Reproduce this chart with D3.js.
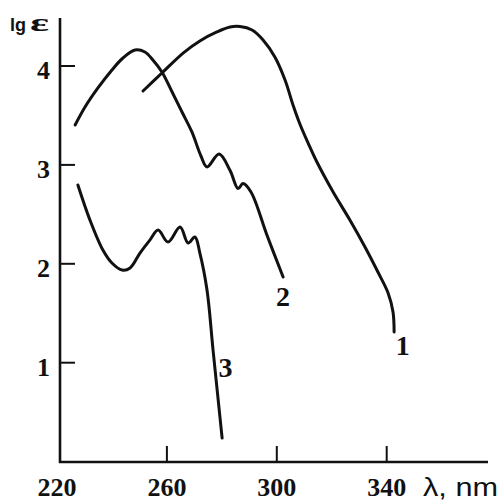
<!DOCTYPE html>
<html>
<head>
<meta charset="utf-8">
<script src="https://cdn.jsdelivr.net/npm/d3@7"></script>
<style>
  html, body { margin: 0; padding: 0; background: #fff; }
  svg { display: block; }
</style>
</head>
<body>
<svg id="chart" width="499" height="503"></svg>
<script>
// ---- data (wavelength in nm, lg ε) ----
const xTicks = [220, 260, 300, 340];
const yTicks = [1, 2, 3, 4];

const curve1Lambda = [251.3, 258.2, 265.9, 272.0, 278.2, 283.0, 286.6, 291.0, 295.0, 299.3, 303.0, 305.9, 308.4, 311.4, 314.6, 320.5, 326.6, 332.1, 336.8, 340.5, 342.3, 342.7];
const curve1LgE    = [3.747, 3.929, 4.131, 4.253, 4.344, 4.394, 4.399, 4.364, 4.263, 4.091, 3.858, 3.606, 3.414, 3.221, 3.029, 2.726, 2.443, 2.170, 1.917, 1.705, 1.513, 1.310];

const curve2Lambda = [226.6, 230.2, 234.9, 240.0, 244.0, 248.4, 252.0, 254.9, 258.2, 261.9, 265.5, 269.1, 272.4, 274.6, 279.0, 283.0, 285.9, 287.7, 290.6, 296.4, 302.3];
const curve2LgE    = [3.403, 3.585, 3.778, 3.960, 4.081, 4.162, 4.142, 4.061, 3.939, 3.737, 3.535, 3.333, 3.090, 2.979, 3.110, 2.943, 2.761, 2.811, 2.726, 2.291, 1.866];

const curve3Lambda = [227.6, 232.0, 236.7, 240.0, 243.7, 246.6, 250.2, 253.8, 256.8, 260.4, 264.8, 267.7, 270.2, 272.0, 274.6, 276.8, 280.1];
const curve3LgE    = [2.797, 2.442, 2.139, 2.008, 1.937, 1.958, 2.109, 2.240, 2.341, 2.220, 2.372, 2.210, 2.271, 2.109, 1.735, 1.128, 0.238];

const curveLabels = ["1", "2", "3"];
// label anchor positions in data units (λ, lg ε)
const labelLambda = [345.8, 302.3, 281.3];
const labelLgE    = [1.08, 1.57, 0.86];

// ---- scales ----
const svg = d3.select("#chart");
const x = d3.scaleLinear().domain([220, 340]).range([57, 386.7]);
const y = d3.scaleLinear().domain([0, 4]).range([461.6, 66]);

const axisX = 60, axisY = 462;

// axes lines
svg.append("line").attr("x1", axisX).attr("x2", axisX).attr("y1", 18).attr("y2", axisY + 1)
  .attr("stroke", "#111").attr("stroke-width", 2.6);
svg.append("line").attr("x1", axisX - 1).attr("x2", 488).attr("y1", axisY).attr("y2", axisY)
  .attr("stroke", "#111").attr("stroke-width", 2.6);

// y ticks + labels
const gy = svg.append("g");
yTicks.forEach(v => {
  gy.append("line").attr("x1", axisX).attr("x2", axisX + 15)
    .attr("y1", y(v)).attr("y2", y(v)).attr("stroke", "#111").attr("stroke-width", 2);
  gy.append("text").attr("x", 50).attr("y", y(v) + 13).attr("text-anchor", "end")
    .attr("font-family", "'Liberation Serif', serif").attr("font-weight", "bold")
    .attr("font-size", 26).attr("fill", "#111").text(v);
});

// x ticks + labels
const gx = svg.append("g");
xTicks.forEach(v => {
  if (v !== 220) {
    gx.append("line").attr("x1", x(v)).attr("x2", x(v))
      .attr("y1", axisY).attr("y2", axisY - 16).attr("stroke", "#111").attr("stroke-width", 2);
  }
  gx.append("text").attr("x", x(v)).attr("y", 496).attr("text-anchor", "middle")
    .attr("font-family", "'Liberation Serif', serif").attr("font-weight", "bold")
    .attr("font-size", 26).attr("fill", "#111").text(v);
});

// axis titles
svg.append("text").attr("x", 423).attr("y", 496)
  .attr("font-family", "'Liberation Sans', sans-serif").attr("font-size", 26)
  .attr("fill", "#111").attr("textLength", 75).attr("lengthAdjust", "spacingAndGlyphs")
  .text("λ, nm");

svg.append("text").attr("x", 10).attr("y", 31).attr("fill", "#111")
  .attr("font-family", "'Liberation Sans', sans-serif").attr("font-weight", "bold")
  .attr("font-size", 18).text("lg");
svg.append("text").attr("x", 30).attr("y", 31).attr("fill", "#111")
  .attr("font-family", "'Liberation Serif', serif").attr("font-weight", "bold")
  .attr("font-size", 26).attr("textLength", 19).attr("lengthAdjust", "spacingAndGlyphs")
  .text("ε");

// curves
const line = d3.line()
  .x(d => x(d[0])).y(d => y(d[1]))
  .curve(d3.curveCatmullRom.alpha(0.5));

const series = [
  d3.zip(curve1Lambda, curve1LgE),
  d3.zip(curve2Lambda, curve2LgE),
  d3.zip(curve3Lambda, curve3LgE)
];

svg.append("g").selectAll("path").data(series).join("path")
  .attr("d", line)
  .attr("fill", "none").attr("stroke", "#111")
  .attr("stroke-width", 3).attr("stroke-linecap", "round").attr("stroke-linejoin", "round");

// curve labels
svg.append("g").selectAll("text").data(curveLabels).join("text")
  .attr("x", (d, i) => x(labelLambda[i])).attr("y", (d, i) => y(labelLgE[i]))
  .attr("text-anchor", "middle")
  .attr("font-family", "'Liberation Serif', serif").attr("font-weight", "bold")
  .attr("font-size", 28).attr("fill", "#111")
  .text(d => d);
</script>
</body>
</html>
